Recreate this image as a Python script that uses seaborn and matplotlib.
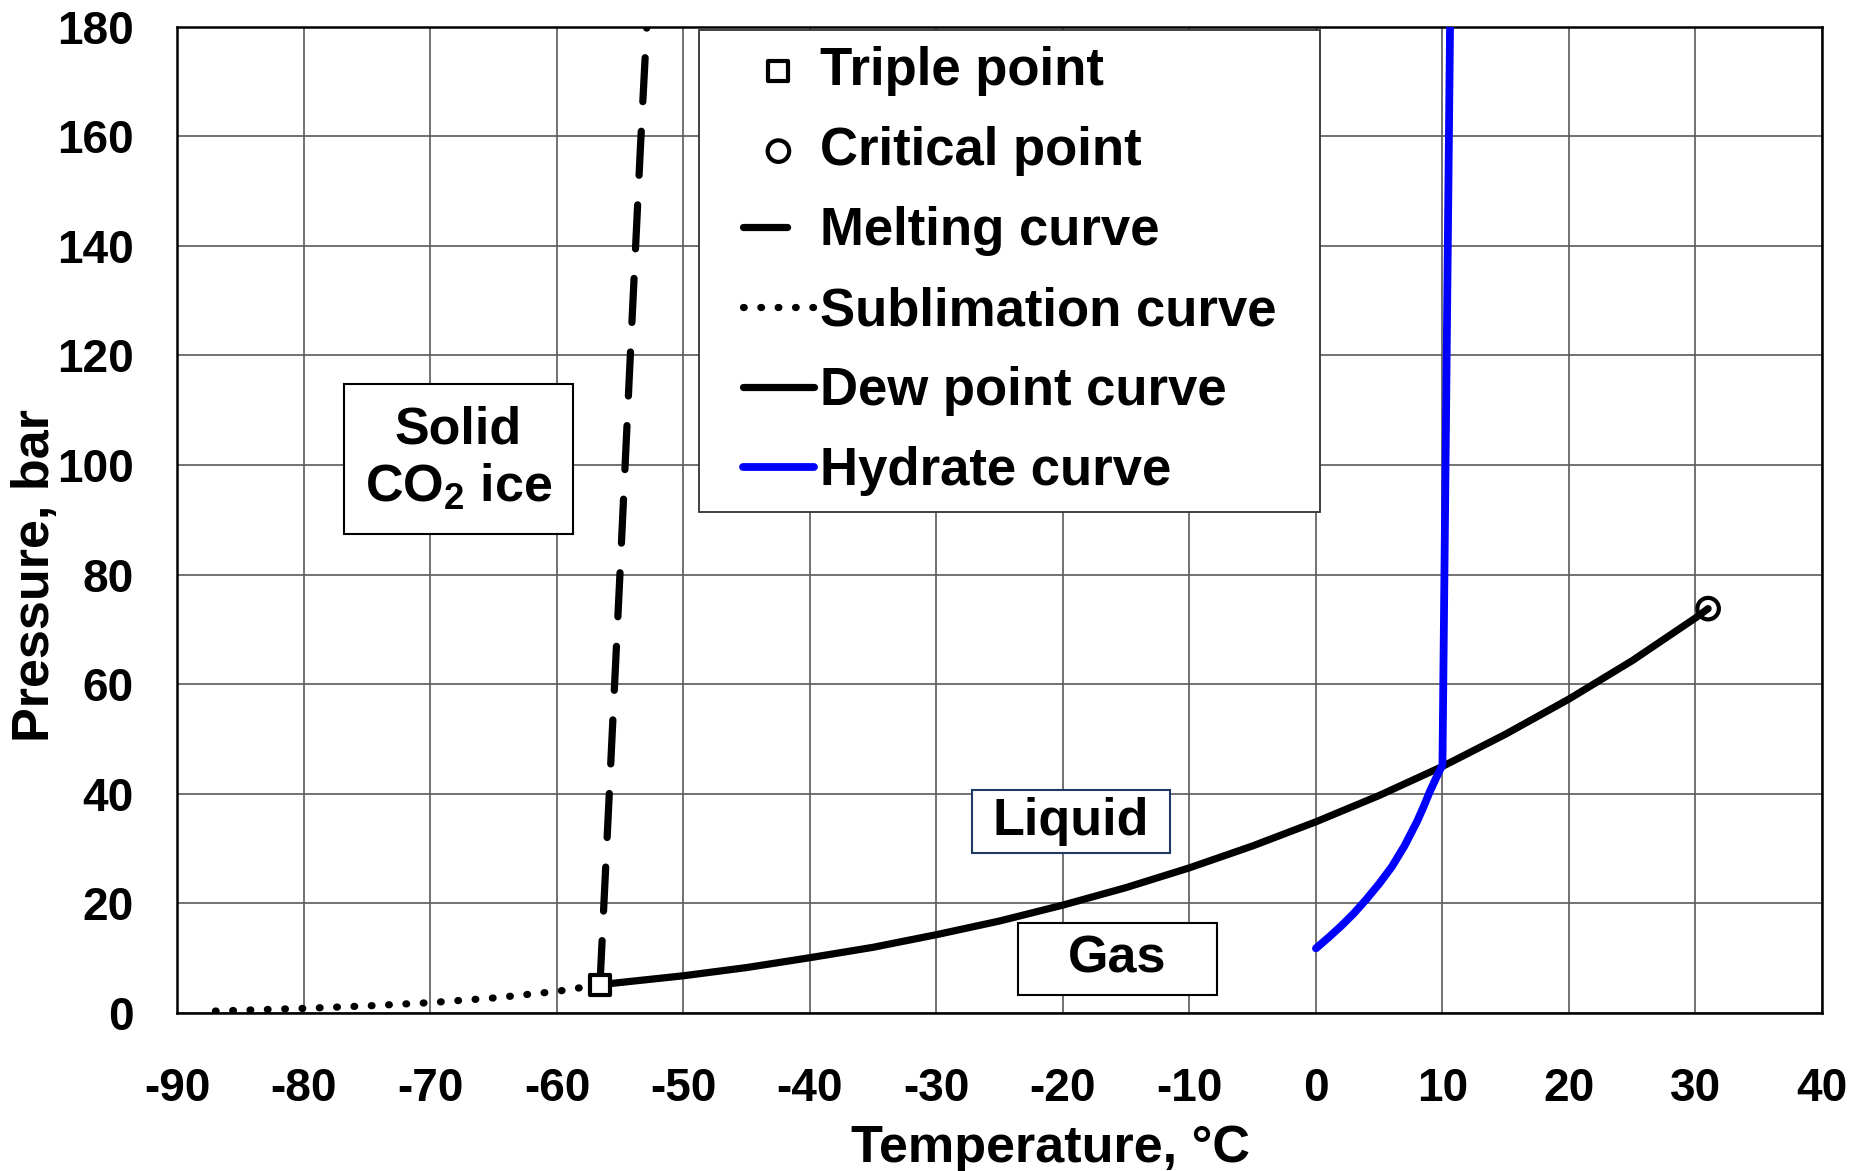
import matplotlib
matplotlib.use("Agg")
import matplotlib.pyplot as plt
from matplotlib.path import Path
import seaborn as sns

# ---- data ----
triple_T = [-56.6]
triple_P = [5.18]
critical_T = [31.0]
critical_P = [73.8]

melt_T = [-56.6, -55.8, -55.0, -54.2, -53.4, -52.9]
melt_P = [5.18, 43.0, 81.0, 120.0, 158.0, 180.0]

sub_T = [-87.0, -85.0, -80.0, -75.0, -70.0, -65.0, -60.0, -56.6]
sub_P = [0.36, 0.50, 0.85, 1.30, 1.90, 2.75, 3.95, 5.18]

dew_T = [-56.6, -50, -45, -40, -35, -30, -25, -20, -15, -10, -5, 0, 5, 10, 15, 20, 25, 30, 31.0]
dew_P = [5.18, 6.8, 8.3, 10.1, 12.0, 14.3, 16.8, 19.7, 22.9, 26.5, 30.5, 34.9, 39.7, 45.0, 50.9, 57.3, 64.3, 72.1, 73.8]

hyd_T = [0.0, 1.0, 2.0, 3.0, 4.0, 5.0, 6.0, 7.0, 8.0, 8.5, 9.0, 9.5, 10.0, 10.2, 10.4, 10.6]
hyd_P = [11.8, 13.8, 15.9, 18.2, 20.8, 23.6, 26.7, 30.5, 35.0, 37.6, 40.4, 42.9, 45.3, 90.0, 135.0, 180.0]

x_ticks = list(range(-90, 41, 10))
y_ticks = list(range(0, 181, 20))

legend_order = ["Triple point", "Critical point", "Melting curve",
                "Sublimation curve", "Dew point curve", "Hydrate curve"]

# ---- style ----
sns.set_theme(style="white")
plt.rcParams["font.family"] = ["Liberation Sans", "DejaVu Sans"]
plt.rcParams["font.weight"] = "bold"
plt.rcParams["axes.labelweight"] = "bold"
plt.rcParams["text.color"] = "black"
plt.rcParams["axes.labelcolor"] = "black"
plt.rcParams["xtick.color"] = "black"
plt.rcParams["ytick.color"] = "black"
plt.rcParams["mathtext.fontset"] = "custom"
plt.rcParams["mathtext.rm"] = "Liberation Sans:bold"
plt.rcParams["mathtext.it"] = "Liberation Sans:bold"
plt.rcParams["mathtext.bf"] = "Liberation Sans:bold"


def padded_box(padx, pady):
    def box(x0, y0, width, height, mutation_size):
        px = padx * mutation_size
        py = pady * mutation_size
        xa, ya = x0 - px, y0 - py
        xb, yb = x0 + width + px, y0 + height + py
        return Path([(xa, ya), (xb, ya), (xb, yb), (xa, yb), (xa, ya)], closed=True)
    return box


fig = plt.figure(figsize=(18.58, 11.71), dpi=100)
ax = fig.add_axes([0.0955, 0.1349, 0.8851, 0.8423])

lw = 5.2
sns.lineplot(x=sub_T, y=sub_P, ax=ax, color="black", linewidth=lw,
             linestyle=(0, (0.1, 2.3)), dash_capstyle="round",
             sort=False, estimator=None, label="Sublimation curve", zorder=3)
sns.lineplot(x=melt_T, y=melt_P, ax=ax, color="black", linewidth=lw,
             linestyle=(0, (6.1, 4.1)), dash_capstyle="round",
             sort=False, estimator=None, label="Melting curve", zorder=3)
sns.lineplot(x=dew_T, y=dew_P, ax=ax, color="black", linewidth=lw,
             sort=False, estimator=None, label="Dew point curve", zorder=3)
sns.lineplot(x=hyd_T, y=hyd_P, ax=ax, color="#0000ff", linewidth=5.6,
             solid_capstyle="round", solid_joinstyle="round",
             sort=False, estimator=None, label="Hydrate curve", zorder=4)
sns.scatterplot(x=triple_T, y=triple_P, ax=ax, marker="s", s=190,
                color="white", edgecolor="black", linewidth=3.0,
                label="Triple point", zorder=6)
sns.scatterplot(x=critical_T, y=critical_P, ax=ax, marker="o", s=240,
                color="none", edgecolor="black", linewidth=3.0,
                label="Critical point", zorder=6)

ax.set_xlim(-90, 40)
ax.set_ylim(0, 180)
ax.set_xticks(x_ticks)
ax.set_yticks(y_ticks)
ax.set_xticklabels([str(v) for v in x_ticks])
ax.set_yticklabels([str(v) for v in y_ticks])
ax.set_axisbelow(True)
ax.grid(True, color="#5a5a5a", linewidth=1.2)
for sp in ax.spines.values():
    sp.set_visible(True)
    sp.set_color("black")
    sp.set_linewidth(1.8)

ax.tick_params(axis="both", direction="out", length=10, width=1.2,
               color="black", labelcolor="black")
ax.tick_params(axis="x", labelsize=33, pad=29)
ax.tick_params(axis="y", labelsize=33, pad=21.5)
for lab in ax.get_xticklabels() + ax.get_yticklabels():
    lab.set_fontweight("bold")

ax.set_xlabel("Temperature, °C", fontsize=37.5, fontweight="bold", color="black")
ax.set_ylabel("Pressure, bar", fontsize=37.5, fontweight="bold", color="black")
ax.xaxis.set_label_coords(0.531, -0.1125)
ax.yaxis.set_label_coords(-0.0716, 0.444)

# region labels
ax.text(-67.8, 101.1, "Solid\nCO$_2$ ice", fontsize=37.5, fontweight="bold",
        ha="center", va="center", zorder=7, color="black",
        bbox=dict(boxstyle=padded_box(0.4, 0.42), fc="white", ec="black", lw=1.5))
ax.text(-19.4, 35.0, "Liquid", fontsize=37.5, fontweight="bold",
        ha="center", va="center", zorder=7, color="black",
        bbox=dict(boxstyle=padded_box(0.4, 0.13), fc="white", ec="#1f3864", lw=1.5))
ax.text(-15.7, 9.8, "Gas", fontsize=37.5, fontweight="bold",
        ha="center", va="center", zorder=7, color="black",
        bbox=dict(boxstyle=padded_box(0.97, 0.22), fc="white", ec="black", lw=1.5))

# legend
handles, labels = ax.get_legend_handles_labels()
hmap = dict(zip(labels, handles))
leg = ax.legend([hmap[k] for k in legend_order], legend_order,
                loc="upper left", bbox_to_anchor=(0.334, 0.9966),
                borderaxespad=0, borderpad=0.3, labelspacing=0.57,
                handlelength=1.36, handletextpad=0.11, fontsize=38,
                frameon=True, fancybox=False, edgecolor="#333333",
                framealpha=1, scatterpoints=1)
leg.get_frame().set_linewidth(1.3)
leg.legendPatch.set_boxstyle(padded_box(0.53, 0.0))
leg.set_zorder(8)
for t in leg.get_texts():
    t.set_fontweight("bold")
    t.set_color("black")

fig.savefig("out.png", dpi=100, facecolor="white")
